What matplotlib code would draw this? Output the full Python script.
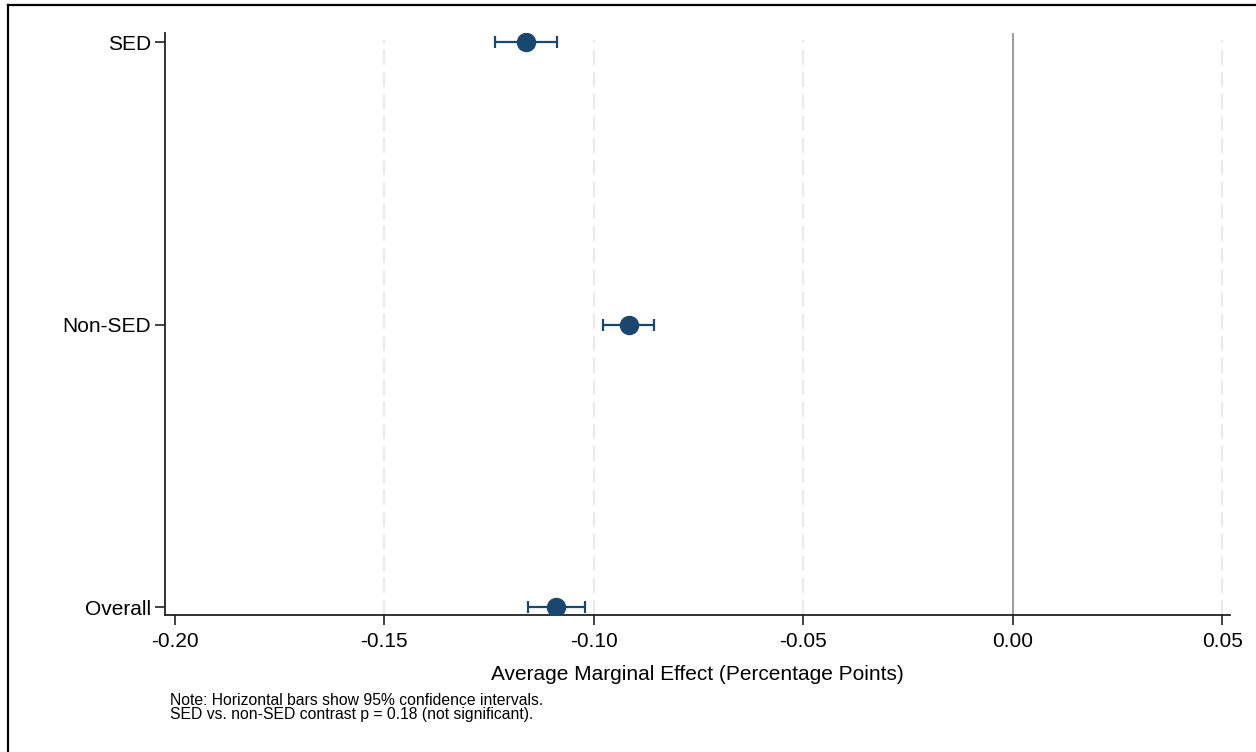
import matplotlib
matplotlib.use("Agg")
import matplotlib.pyplot as plt
from matplotlib.lines import Line2D

plt.rcParams['font.family'] = ['Liberation Sans', 'DejaVu Sans']

# estimates
groups = ["Overall", "Non-SED", "SED"]
effect = [-0.1089, -0.0916, -0.1162]
ci_low = [-0.1157, -0.0978, -0.1235]
ci_high = [-0.1020, -0.0857, -0.1087]

xticks = [-0.20, -0.15, -0.10, -0.05, 0.00, 0.05]
grid_at = [-0.15, -0.10, -0.05, 0.05]

navy = "#1a476f"

fig = plt.figure(figsize=(12.56, 7.52), dpi=100)
ax = fig.add_axes([165/1256, 1 - 615/752, (1230 - 165)/1256, (615 - 33)/752])

ypos = list(range(len(groups)))
xerr = [[e - lo for e, lo in zip(effect, ci_low)],
        [hi - e for e, hi in zip(effect, ci_high)]]

# dashed light grid and solid zero line
for g in grid_at:
    ax.axvline(g, ymin=0, ymax=(615 - 40)/(615 - 33), color="#eaeaea",
               lw=1.6, dashes=(6.8, 3.1), zorder=0)
ax.axvline(0, color="#8a8a8a", lw=1.2, zorder=1)

ax.errorbar(effect, ypos, xerr=xerr, fmt="o", color=navy, ecolor=navy,
            markersize=13, elinewidth=1.6, capsize=4.5, capthick=1.6, zorder=3)

ax.set_xlim(-0.2023, 0.0518)
ax.set_ylim(-0.028, 2.032)
ax.set_xticks(xticks)
ax.set_xticklabels([f"{t:.2f}" for t in xticks])
ax.set_yticks(ypos)
ax.set_yticklabels(groups)
ax.tick_params(axis="both", labelsize=15, length=7, width=1.2, color="#222222")
ax.tick_params(axis="x", pad=5)
ax.tick_params(axis="y", pad=3)

for s in ["top", "right"]:
    ax.spines[s].set_visible(False)
for s in ["left", "bottom"]:
    ax.spines[s].set_linewidth(1.3)
    ax.spines[s].set_color("#222222")

ax.set_xlabel("Average Marginal Effect (Percentage Points)", fontsize=15, labelpad=10)

fig.text(170/1256, 1 - 693/752,
         "Note: Horizontal bars show 95% confidence intervals.\n"
         "SED vs. non-SED contrast p = 0.18 (not significant).",
         fontsize=11.3, va="top", ha="left", linespacing=0.95)

# partial frame around the figure
fig.add_artist(Line2D([8/1256, 8/1256], [0, 1 - 5/752], transform=fig.transFigure,
                      color="black", lw=1.6))
fig.add_artist(Line2D([8/1256, 1], [1 - 5/752, 1 - 5/752], transform=fig.transFigure,
                      color="black", lw=1.6))

fig.savefig("out.png", dpi=100)
